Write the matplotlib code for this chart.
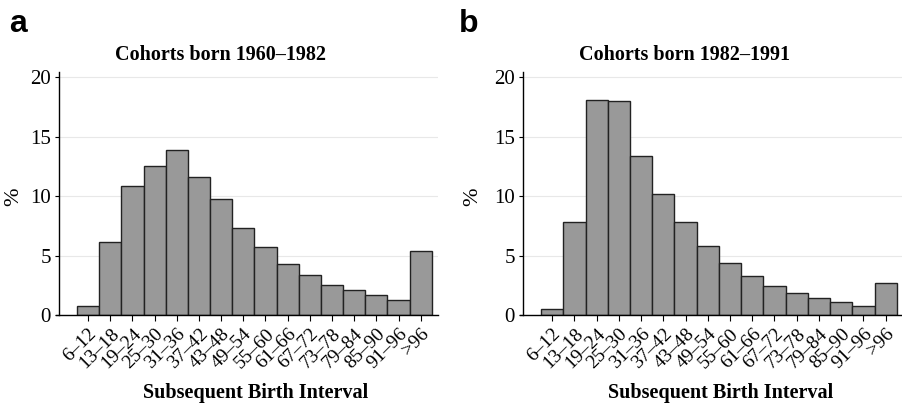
import matplotlib
matplotlib.use("Agg")
from matplotlib import pyplot as plt
import numpy as np

intervals = ["6–12", "13–18", "19–24", "25–30", "31–36", "37–42", "43–48",
             "49–54", "55–60", "61–66", "67–72", "73–78", "79–84", "85–90",
             "91–96", ">96"]
pct_1960_1982 = [0.78, 6.13, 10.84, 12.58, 13.92, 11.6, 9.75, 7.34, 5.77,
                 4.31, 3.42, 2.58, 2.16, 1.68, 1.32, 5.41]
pct_1982_1991 = [0.50, 7.84, 18.07, 18.04, 13.42, 10.22, 7.82, 5.80, 4.40,
                 3.28, 2.49, 1.85, 1.43, 1.09, 0.81, 2.75]
titles = ["Cohorts born 1960–1982", "Cohorts born 1982–1991"]
panel_letters = ["a", "b"]
yticks = [0, 5, 10, 15, 20]

serif = ["Liberation Serif", "DejaVu Serif"]
plt.rcParams["font.family"] = serif

fig = plt.figure(figsize=(9.03, 4.05), dpi=100)
axes = [fig.add_axes([55.5 / 903, 0.2215, 382.5 / 903, 0.6007]),
        fig.add_axes([519.5 / 903, 0.2215, 383.5 / 903, 0.6007])]
# per-panel text offsets (axes fraction): title x, xlabel x, "%" x
offsets = [(0.431, 0.524, -0.110), (0.431, 0.524, -0.123)]

x = np.arange(len(intervals))
for ax, vals, title, letter, off in zip(axes, [pct_1960_1982, pct_1982_1991],
                                        titles, panel_letters, offsets):
    ax.bar(x, vals, width=1.0, color="#999999", edgecolor="#222222",
           linewidth=1.0, zorder=2)
    ax.set_xlim(-1.47, 15.78)
    ax.set_ylim(0, 20.45)
    ax.spines["left"].set_position(("data", -1.3))
    ax.set_yticks(yticks)
    ax.set_yticklabels([str(t) for t in yticks], fontsize=15)
    ax.yaxis.grid(True, color="#e8e8e8", linewidth=0.8, zorder=0)
    ax.set_axisbelow(True)
    ax.set_xticks(x)
    ax.set_xticklabels(intervals, fontsize=14, rotation=45, ha="right",
                       rotation_mode="anchor")
    ax.tick_params(axis="x", length=4, width=0.8, pad=3)
    ax.tick_params(axis="y", length=3, width=0.8, pad=3)
    for s in ["top", "right"]:
        ax.spines[s].set_visible(False)
    for s in ["left", "bottom"]:
        ax.spines[s].set_linewidth(1.0)
    ax.set_title(title, fontsize=14.5, fontweight="bold", x=off[0], pad=9)
    ax.text(off[1], -0.34, "Subsequent Birth Interval", transform=ax.transAxes,
            ha="center", va="baseline", fontsize=14.5, fontweight="bold")
    ax.text(off[2], 0.486, "%", transform=ax.transAxes, rotation=90,
            ha="center", va="center", fontsize=16)

fig.text(0.010, 0.922, "a", fontsize=23, fontweight="bold",
         family=["Liberation Sans", "DejaVu Sans"], va="baseline")
fig.text(0.508, 0.922, "b", fontsize=23, fontweight="bold",
         family=["Liberation Sans", "DejaVu Sans"], va="baseline")

fig.savefig("out.png", dpi=100)
